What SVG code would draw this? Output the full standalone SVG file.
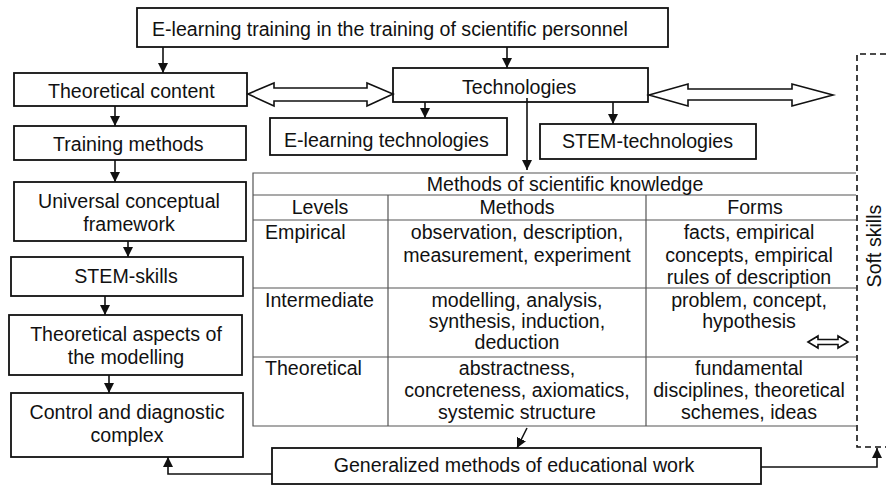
<svg xmlns="http://www.w3.org/2000/svg" width="886" height="486" viewBox="0 0 886 486">
<defs>
<style>
text{font-family:"Liberation Sans",Arial,sans-serif;font-size:19.6px;fill:#111}
.c{text-anchor:middle}
.box{fill:#fff;stroke:#111;stroke-width:1.8}
.tl{stroke:#555;stroke-width:1.2;fill:none}
.ln{stroke:#111;stroke-width:1.6;fill:none}
.dbl{fill:#fff;stroke:#111;stroke-width:1.6;stroke-linejoin:miter}
.dash{stroke:#111;stroke-width:1.6;fill:none;stroke-dasharray:6 4}
</style>
<marker id="ah" viewBox="0 0 10 10" refX="10" refY="5" markerWidth="10" markerHeight="10" markerUnits="userSpaceOnUse" orient="auto">
<path d="M0,0 L10,5 L0,10 z" fill="#111"/>
</marker>
</defs>
<rect width="886" height="486" fill="#fff"/>

<g id="top"><rect class="box" x="137" y="8" width="531" height="39"/><text x="152" y="36">E-learning training in the training of scientific personnel</text></g>
<g id="theoretical-content"><rect class="box" x="14" y="73" width="233" height="33"/><text x="48" y="98">Theoretical content</text></g>
<g id="technologies"><rect class="box" x="393" y="68" width="255" height="34"/><text x="462" y="94">Technologies</text></g>
<g id="elearning-tech"><rect class="box" x="270" y="118" width="237" height="37"/><text x="284" y="147">E-learning technologies</text></g>
<g id="stem-tech"><rect class="box" x="540" y="124" width="216" height="35"/><text x="562" y="148">STEM-technologies</text></g>
<g id="training-methods"><rect class="box" x="14" y="126" width="232" height="34"/><text x="53" y="151">Training methods</text></g>
<g id="universal"><rect class="box" x="14" y="182" width="232" height="59"/><text class="c" x="129" y="208">Universal conceptual</text><text class="c" x="129" y="231">framework</text></g>
<g id="stem-skills"><rect class="box" x="11" y="257" width="232" height="39"/><text class="c" x="126" y="283">STEM-skills</text></g>
<g id="aspects"><rect class="box" x="9" y="315" width="233" height="60"/><text class="c" x="126" y="341">Theoretical aspects of</text><text class="c" x="126" y="364">the modelling</text></g>
<g id="control"><rect class="box" x="11" y="393" width="232" height="64"/><text class="c" x="127" y="419">Control and diagnostic</text><text class="c" x="127" y="442">complex</text></g>
<g id="generalized"><rect class="box" x="272" y="448" width="489" height="36"/><text class="c" x="514" y="472">Generalized methods of educational work</text></g>

<g id="table">
<path class="tl" d="M856,173 H253 V426 H856 M253,195 H856 M253,220 H856 M253,288 H856 M253,357 H856 M388,195 V426 M646,195 V426"/>
<text class="c" x="565" y="191">Methods of scientific knowledge</text>
<text class="c" x="320" y="214">Levels</text>
<text class="c" x="517" y="214">Methods</text>
<text class="c" x="755" y="214">Forms</text>
<text x="265" y="239">Empirical</text>
<text class="c" x="517" y="239">observation, description,</text>
<text class="c" x="517" y="262">measurement, experiment</text>
<text class="c" x="749" y="239">facts, empirical</text>
<text class="c" x="749" y="262">concepts, empirical</text>
<text class="c" x="749" y="284">rules of description</text>
<text x="265" y="307">Intermediate</text>
<text class="c" x="517" y="307">modelling, analysis,</text>
<text class="c" x="517" y="328">synthesis, induction,</text>
<text class="c" x="517" y="349">deduction</text>
<text class="c" x="749" y="307">problem, concept,</text>
<text class="c" x="749" y="328">hypothesis</text>
<text x="265" y="375">Theoretical</text>
<text class="c" x="517" y="375">abstractness,</text>
<text class="c" x="517" y="397">concreteness, axiomatics,</text>
<text class="c" x="517" y="419">systemic structure</text>
<text class="c" x="749" y="375">fundamental</text>
<text class="c" x="749" y="397">disciplines, theoretical</text>
<text class="c" x="749" y="419">schemes, ideas</text>
</g>

<g id="soft-skills">
<path class="dash" d="M886,54 H857 V447 H886"/>
<text class="c" transform="translate(881,246) rotate(-90)">Soft skills</text>
</g>

<g id="connectors">
<line class="ln" x1="163" y1="47" x2="163" y2="73" marker-end="url(#ah)"/>
<line class="ln" x1="507" y1="47" x2="507" y2="68" marker-end="url(#ah)"/>
<line class="ln" x1="425" y1="102" x2="425" y2="118" marker-end="url(#ah)"/>
<line class="ln" x1="613" y1="102" x2="613" y2="124" marker-end="url(#ah)"/>
<line class="ln" x1="527" y1="98" x2="527" y2="170" marker-end="url(#ah)"/>
<line class="ln" x1="115" y1="106" x2="115" y2="126" marker-end="url(#ah)"/>
<line class="ln" x1="115" y1="160" x2="115" y2="182" marker-end="url(#ah)"/>
<line class="ln" x1="128" y1="241" x2="128" y2="257" marker-end="url(#ah)"/>
<line class="ln" x1="105" y1="296" x2="105" y2="315" marker-end="url(#ah)"/>
<line class="ln" x1="109" y1="375" x2="109" y2="393" marker-end="url(#ah)"/>
<line class="ln" x1="527" y1="428" x2="517" y2="448" marker-end="url(#ah)"/>
<polyline class="ln" points="272,474 168,474 168,457" marker-end="url(#ah)"/>
<polyline class="ln" points="761,467 877,467 877,448" marker-end="url(#ah)"/>
<path class="dbl" d="M248,94 L274,83 L274,88 L367,88 L367,83 L393,94 L367,106 L367,101 L274,101 L274,106 Z"/>
<path class="dbl" d="M649,95 L688,84 L688,89 L792,89 L792,84 L833,95 L792,106 L792,100 L688,100 L688,106 Z"/>
<path class="dbl" d="M808,342 L818,336 L818,339.5 L838,339.5 L838,336 L848,342 L838,348 L838,344.5 L818,344.5 L818,348 Z"/>
</g>
</svg>
